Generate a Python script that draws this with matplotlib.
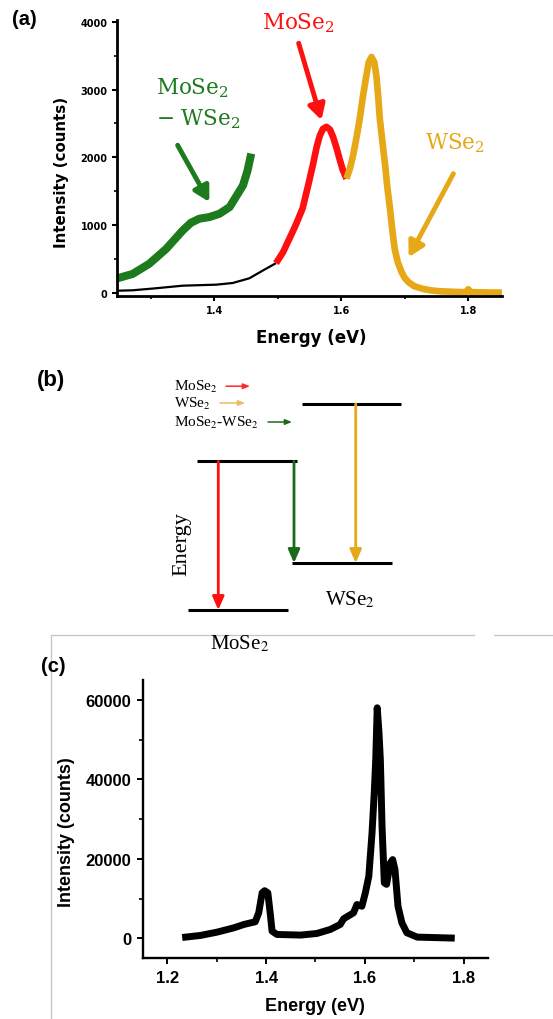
import matplotlib
matplotlib.use("Agg")
import matplotlib.pyplot as plt

# (a) PL spectrum of the MoSe2/WSe2 heterostructure, split into emission regions
energy_bg = [1.247, 1.271, 1.308, 1.350, 1.403, 1.429, 1.455, 1.476, 1.497]
counts_bg = [34, 40, 70, 108, 123, 148, 217, 330, 440]

energy_int = [1.247, 1.271, 1.297, 1.324, 1.350, 1.363, 1.376, 1.392, 1.408,
              1.424, 1.434, 1.445, 1.452, 1.458]
counts_int = [217, 281, 429, 651, 922, 1036, 1095, 1120, 1169,
              1268, 1420, 1587, 1800, 2056]

energy_mo = [1.497, 1.508, 1.518, 1.528, 1.539, 1.548, 1.555, 1.561, 1.566,
             1.571, 1.5765, 1.582, 1.587, 1.592, 1.597, 1.602, 1.608]
counts_mo = [440, 600, 799, 1000, 1250, 1600, 1883, 2150, 2320,
             2420, 2450, 2410, 2300, 2150, 1982, 1820, 1686]

energy_w = [1.608, 1.613, 1.6185, 1.624, 1.629, 1.634, 1.6395, 1.643, 1.6475,
            1.652, 1.655, 1.658, 1.6605, 1.665, 1.669, 1.6725, 1.6765, 1.680,
            1.684, 1.689, 1.695, 1.700, 1.706, 1.715, 1.729, 1.742, 1.756,
            1.784, 1.796, 1.800, 1.804, 1.853]
counts_w = [1686, 1820, 2031, 2300, 2574, 2900, 3215, 3400, 3480,
            3400, 3215, 2900, 2574, 2200, 1883, 1550, 1250, 950,
            651, 450, 306, 220, 158, 100, 59, 38, 25,
            15, 12, 55, 12, 5]

xticks_a = [1.4, 1.6, 1.8]
yticks_a = [0, 1000, 2000, 3000, 4000]

# (c) PL spectrum of bare MoSe2
energy_c = [1.237, 1.267, 1.301, 1.335, 1.355, 1.369, 1.378, 1.385, 1.392,
            1.397, 1.4035, 1.409, 1.412, 1.422, 1.470, 1.503, 1.530, 1.550,
            1.557, 1.577, 1.584, 1.594, 1.601, 1.608, 1.6145, 1.619, 1.622,
            1.625, 1.6285, 1.6314, 1.6348, 1.6394, 1.644, 1.6516, 1.6563,
            1.661, 1.6671, 1.675, 1.685, 1.706, 1.775]
counts_c = [330, 750, 1590, 2680, 3510, 3930, 4180, 6440, 11470,
            12000, 11470, 5600, 1840, 1000, 840, 1250, 2260, 3510,
            4940, 6440, 8530, 8100, 11470, 15630, 26520, 36560, 44910,
            58000, 52000, 44910, 28180, 13970, 13600, 19000, 19820,
            17300, 8100, 3930, 1430, 330, 100]

xticks_c = [1.2, 1.4, 1.6, 1.8]
yticks_c = [0, 20000, 40000, 60000]

# (b) band-alignment sketch: level edges and transitions in sketch units
level_x0 = [301.7, 196.7, 291.7, 188.3]
level_x1 = [401.0, 296.7, 391.7, 288.3]
level_y = [405, 462.3, 564, 611]
trans_x = [218.3, 294.0, 355.7]
trans_top = [462.3, 462.3, 405]
trans_bottom = [611, 564, 564]

red = '#ff1010'
gold = '#e6a817'
green = '#1d7a1d'
dkgreen = '#1b6a1b'
sans = 'DejaVu Sans'
arial = 'Liberation Sans'
times = 'Liberation Serif'

fig = plt.figure(figsize=(5.53, 10.2), dpi=100)

# ---------- (b) sketch, on a full-figure axes in pixel units ----------
sk = fig.add_axes([0, 0, 1, 1])
sk.set_xlim(0, 553)
sk.set_ylim(1020, 0)
sk.axis('off')

sk.plot([50.7, 474], [636, 636], color='#c4c4c4', lw=0.9)
sk.plot([494, 553], [636, 636], color='#c4c4c4', lw=0.9)
sk.plot([50.7, 50.7], [636, 1020], color='#c4c4c4', lw=0.9)

sk.hlines(level_y, level_x0, level_x1, color='black', lw=2.2)
for x, y0, y1, c in zip(trans_x, trans_top, trans_bottom, [red, dkgreen, gold]):
    sk.annotate('', xy=(x, y1), xytext=(x, y0),
                arrowprops=dict(arrowstyle='-|>,head_length=0.8,head_width=0.35',
                                color=c, lw=2.0, mutation_scale=10,
                                shrinkA=0, shrinkB=0))

legend_items = [('MoSe$_2$', 390.7, 226, 250, '#ff2a2a'),
                ('WSe$_2$', 407.5, 220, 245, '#e9bc66'),
                ('MoSe$_2$-WSe$_2$', 426.5, 268, 292, dkgreen)]
for txt, yb, xa, xb, c in legend_items:
    sk.text(174, yb, txt, family=times, fontsize=11, va='baseline',
            math_fontfamily='stix')
    sk.annotate('', xy=(xb, yb - 3.5), xytext=(xa, yb - 3.5),
                arrowprops=dict(arrowstyle='-|>,head_length=0.5,head_width=0.2',
                                color=c, lw=1.1, mutation_scale=8,
                                shrinkA=0, shrinkB=0))

sk.text(182, 544, 'Energy', family=times, fontsize=16, rotation=90,
        ha='center', va='center')
sk.text(325, 605, 'WSe$_2$', family=times, fontsize=15, va='baseline',
        math_fontfamily='stix')
sk.text(210, 649, 'MoSe$_2$', family=times, fontsize=15, va='baseline',
        math_fontfamily='stix')

# ---------- (a) ----------
ax = fig.add_axes([0.211, 0.7091, 0.6967, 0.2706])
line_kw = dict(solid_capstyle='butt', solid_joinstyle='round')
ax.plot(energy_bg, counts_bg, color='black', lw=1.6, **line_kw)
ax.plot(energy_int, counts_int, color=green, lw=5.8, **line_kw)
ax.plot(energy_mo, counts_mo, color=red, lw=4.8, **line_kw)
ax.plot(energy_w, counts_w, color=gold, lw=4.8, **line_kw)
ax.set_xlim(1.246, 1.853)
ax.set_ylim(-40, 4030)
for s in ['top', 'right']:
    ax.spines[s].set_visible(False)
for s in ['left', 'bottom']:
    ax.spines[s].set_linewidth(2)
ax.set_xticks(xticks_a, labels=[f'{v:.1f}' for v in xticks_a],
              fontweight='bold', fontsize=7, family=sans)
ax.set_yticks(yticks_a, labels=[str(v) for v in yticks_a],
              fontweight='bold', fontsize=7, family=sans)
ax.set_xticks([1.3, 1.5, 1.7], minor=True)
ax.set_yticks([500, 1500, 2500, 3500], minor=True)
ax.tick_params(which='major', direction='out', length=3.6, width=1.5, pad=3)
ax.tick_params(which='minor', direction='out', length=2.2, width=1.2)
ax.set_xlabel('Energy (eV)', fontsize=12, fontweight='bold', family=sans)
ax.set_ylabel('Intensity (counts)', fontsize=10.8, fontweight='bold', family=sans)
ax.xaxis.set_label_coords(0.504, -0.118)
ax.yaxis.set_label_coords(-0.125, 0.452)

arrow_a = dict(arrowstyle='-|>,head_length=0.45,head_width=0.25',
               lw=3.5, mutation_scale=20, shrinkA=0, shrinkB=0)
ax.annotate('', xy=(1.5686, 2549), xytext=(1.5327, 3683),
            arrowprops=dict(color=red, **arrow_a))
ax.annotate('', xy=(1.392, 1342), xytext=(1.342, 2179),
            arrowprops=dict(color=green, **arrow_a))
ax.annotate('', xy=(1.706, 528), xytext=(1.7765, 1760),
            arrowprops=dict(color=gold, **arrow_a))

serif_kw = dict(family='DejaVu Serif', fontsize=15.5, va='baseline',
                math_fontfamily='dejavuserif')
ax.text(1.5327, 3905, 'MoSe$_2$', color=red, ha='center', **serif_kw)
ax.text(1.3084, 2944, 'MoSe$_2$', color=green, **serif_kw)
ax.text(1.3084, 2485, '\u2212 WSe$_2$', color=green, **serif_kw)
ax.text(1.7318, 2130, 'WSe$_2$', color=gold, **serif_kw)

# ---------- (c) ----------
axc = fig.add_axes([0.258, 0.0595, 0.625, 0.2729])
axc.plot(energy_c, counts_c, color='black', lw=5.0, solid_joinstyle='round')
axc.set_xlim(1.15, 1.85)
axc.set_ylim(-5000, 65000)
for s in ['top', 'right']:
    axc.spines[s].set_visible(False)
for s in ['left', 'bottom']:
    axc.spines[s].set_linewidth(1.7)
axc.set_xticks(xticks_c, labels=[f'{v:.1f}' for v in xticks_c],
               fontweight='bold', fontsize=12, family=arial)
axc.set_yticks(yticks_c, labels=[str(v) for v in yticks_c],
               fontweight='bold', fontsize=12, family=arial)
axc.set_xticks([1.3, 1.5, 1.7], minor=True)
axc.set_yticks([10000, 30000, 50000], minor=True)
axc.tick_params(which='major', direction='out', length=4.3, width=1.4, pad=4)
axc.tick_params(which='minor', direction='out', length=2.6, width=1.2)
axc.set_xlabel('Energy (eV)', fontsize=13, fontweight='bold', family=arial)
axc.set_ylabel('Intensity (counts)', fontsize=13, fontweight='bold', family=arial)
axc.xaxis.set_label_coords(0.497, -0.1405)
axc.yaxis.set_label_coords(-0.196, 0.457)

# panel letters
fig.text(0.0447, 0.9804, '(a)', fontsize=14.5, fontweight='bold', family=arial,
         ha='center', va='center')
fig.text(0.0922, 0.6265, '(b)', fontsize=16, fontweight='bold', family=arial,
         ha='center', va='center')
fig.text(0.0958, 0.3461, '(c)', fontsize=14.5, fontweight='bold', family=arial,
         ha='center', va='center')

fig.savefig('out.png', dpi=100)
